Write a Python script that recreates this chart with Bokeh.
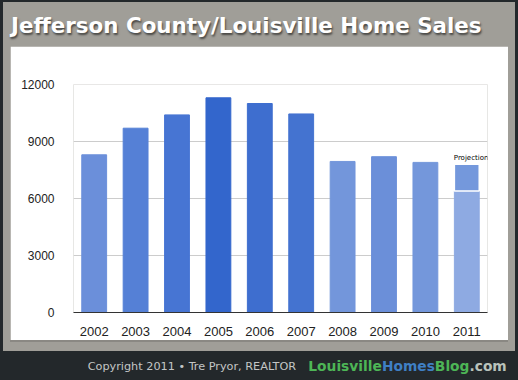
from bokeh.plotting import figure
from bokeh.models import ColumnDataSource, FactorRange, Range1d, FixedTicker, Div
from bokeh.layouts import column
from bokeh.core.properties import value
from bokeh.embed import file_html
from bokeh.resources import INLINE

# ---- data ----
years = ["2002", "2003", "2004", "2005", "2006", "2007", "2008", "2009", "2010", "2011"]
sales = [8300, 9700, 10400, 11300, 11000, 10450, 7950, 8200, 7900, 6400]
bar_colors = ["#6b8fda", "#5580d6", "#4775d3", "#3366cc", "#3e6ecf",
              "#4473d0", "#7396db", "#6b8fd9", "#7497db", "#8eaae2"]
projection_year = "2011"
projection_total = 7800
projection_color = "#7498dc"
y_ticks = [0, 3000, 6000, 9000, 12000]
title_text = "Jefferson County/Louisville Home Sales"
copyright_text = "Copyright 2011 \u2022 Tre Pryor, REALTOR"
brand_parts = ["Louisville", "Homes", "Blog", ".com"]
brand_colors = ["#4db556", "#3f7fc4", "#4db556", "#b9c2bb"]

GREY = "#a09e98"
DARK = "#23282b"
W = 518

# ---- title strip (HTML) ----
title_html = (
    f'<div style="width:{W}px;height:46px;overflow:hidden;box-sizing:border-box;'
    f'border-top:2px solid {DARK};">'
    f'<div style="padding:10.5px 0 0 11px;white-space:nowrap;font-family:\'DejaVu Sans\';'
    f'font-weight:bold;font-size:21.4px;line-height:normal;color:#ffffff;'
    f'text-shadow:1px 2px 2px rgba(0,0,0,0.55);">{title_text}</div></div>'
)
t = Div(text=title_html, width=W, height=46, margin=0)

# ---- main chart ----
src = ColumnDataSource(dict(year=years, sales=sales, color=bar_colors))
p = figure(width=498, height=294, x_range=FactorRange(*years), y_range=Range1d(0, 12000),
           output_backend="svg", toolbar_location=None,
           min_border_left=63, min_border_right=21, min_border_top=38, min_border_bottom=28)
p.margin = (0, 10, 0, 10)
p.x_range.range_padding = 0
p.background_fill_color = "white"
p.border_fill_color = "white"
p.outline_line_color = None

p.vbar(x="year", top="sales", width=0.6, color="color", source=src)
proj_src = ColumnDataSource(dict(year=[projection_year], bottom=[sales[-1]], top=[projection_total]))
p.vbar(x="year", bottom="bottom", top="top", width=0.6, fill_color=projection_color,
       line_color="white", line_width=1.5, source=proj_src)
p.text(x=[projection_year], y=[projection_total], text=["Projection"], x_offset=-13,
       y_offset=-2, text_font=value("DejaVu Sans"), text_font_size="7px",
       text_color="black", text_align="left", text_baseline="bottom")

p.xgrid.grid_line_color = None
p.ygrid.grid_line_color = "#cccccc"
p.yaxis.ticker = FixedTicker(ticks=y_ticks)
p.yaxis.axis_line_color = None
p.yaxis.major_tick_line_color = None
p.yaxis.minor_tick_line_color = None
p.yaxis.major_label_standoff = 13
p.yaxis.major_label_text_font = "Liberation Sans"
p.yaxis.major_label_text_font_size = "12px"
p.yaxis.major_label_text_color = "#222222"
p.xaxis.axis_line_color = "#333333"
p.xaxis.major_tick_line_color = None
p.xaxis.minor_tick_line_color = None
p.xaxis.major_label_standoff = 8
p.xaxis.major_label_text_font = "Liberation Sans"
p.xaxis.major_label_text_font_size = "13px"
p.xaxis.major_label_text_color = "#222222"

# ---- footer (HTML) ----
brand_html = "".join(f'<span style="color:{c};">{s}</span>' for s, c in zip(brand_parts, brand_colors))
footer_html = (
    f'<div style="width:{W}px;height:40px;overflow:hidden;">'
    f'<div style="margin-left:10px;width:498px;height:2px;background:#8a8883;"></div>'
    f'<div style="margin-top:9px;position:relative;width:{W}px;height:29px;background:{DARK};">'
    f'<span style="position:absolute;left:87.7px;top:9.3px;white-space:nowrap;'
    f'font-family:\'DejaVu Sans\';font-size:11.25px;line-height:14px;color:#c4c6c6;">{copyright_text}</span>'
    f'<span style="position:absolute;left:308.3px;top:7px;white-space:nowrap;'
    f'font-family:\'DejaVu Sans\';font-weight:bold;font-size:13.8px;line-height:16px;">{brand_html}</span>'
    f'</div></div>'
)
f = Div(text=footer_html, width=W, height=40, margin=0)

layout = column(t, p, f, spacing=0,
                styles={"background-color": GREY,
                        "box-shadow": f"inset 3px 0 0 {DARK}, inset -3px 0 0 {DARK}"})
open("out.html", "w").write(file_html(layout, INLINE))
